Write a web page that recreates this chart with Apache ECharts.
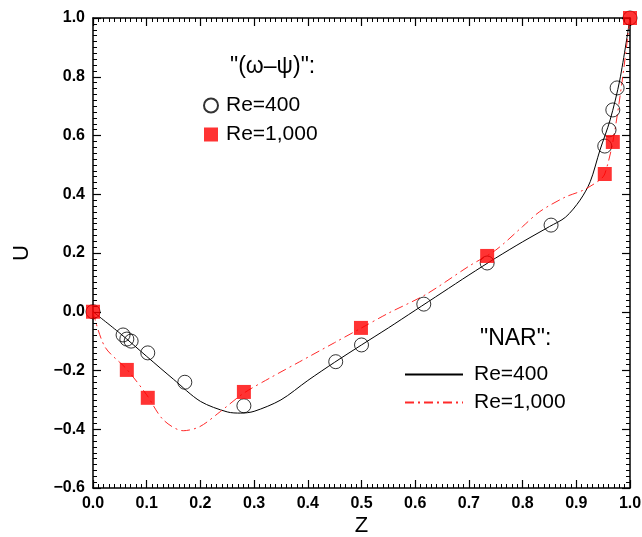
<!DOCTYPE html>
<html><head><meta charset="utf-8">
<script src="https://cdn.jsdelivr.net/npm/echarts@6/dist/echarts.min.js"></script>
<style>html,body{margin:0;padding:0;background:#fff}#c{width:642px;height:537px}</style>
</head><body><div id="c"></div>
<script>
// omega-psi Re=400 (circles)
const wp400Z = [0, 0.056, 0.063, 0.071, 0.102, 0.171, 0.281, 0.452, 0.500, 0.616, 0.734, 0.853, 0.953, 0.961, 0.968, 0.976, 1.0];
const wp400U = [0, -0.079, -0.093, -0.10, -0.14, -0.24, -0.32, -0.17, -0.113, 0.026, 0.166, 0.295, 0.564, 0.619, 0.687, 0.762, 1.0];
// omega-psi Re=1000 (squares)
const wp1000Z = [0, 0.063, 0.102, 0.281, 0.499, 0.734, 0.953, 0.968, 1.0];
const wp1000U = [0, -0.198, -0.293, -0.273, -0.055, 0.190, 0.469, 0.578, 1.0];
// NAR Re=400 (solid line)
const nar400Z = [0, 0.05, 0.1, 0.15, 0.2, 0.25, 0.275, 0.3, 0.35, 0.4, 0.45, 0.5, 0.55, 0.6, 0.65, 0.7, 0.75, 0.8, 0.85, 0.88, 0.907, 0.926, 0.944, 0.963, 0.981, 1.0];
const nar400U = [0, -0.073, -0.152, -0.230, -0.305, -0.341, -0.345, -0.339, -0.300, -0.234, -0.172, -0.113, -0.055, 0.005, 0.065, 0.125, 0.183, 0.238, 0.29, 0.322, 0.38, 0.443, 0.55, 0.653, 0.789, 1.0];
// NAR Re=1000 (dash-dot line)
const nar1000Z = [0, 0.022, 0.063, 0.1, 0.131, 0.168, 0.199, 0.237, 0.28, 0.33, 0.385, 0.45, 0.5, 0.55, 0.62, 0.7, 0.75, 0.8, 0.832, 0.879, 0.913, 0.944, 0.953, 0.968, 0.985, 1.0];
const nar1000U = [0, -0.119, -0.196, -0.283, -0.368, -0.405, -0.391, -0.34, -0.278, -0.225, -0.17, -0.105, -0.055, -0.005, 0.059, 0.155, 0.21, 0.29, 0.341, 0.39, 0.414, 0.449, 0.469, 0.578, 0.78, 1.0];
// axis ticks
const xTicks = {min: 0, max: 1, interval: 0.1};
const yTicks = {min: -0.6, max: 1.0, interval: 0.2};

const zip = (a, b) => a.map((v, i) => [v, b[i]]);
const FONT = 'Liberation Sans';
const fmt1 = v => (Math.abs(v) < 1e-9 ? 0 : v).toFixed(1).replace('-', '\u2212');
const labelMap = {wp400: 'Re=400', wp1000: 'Re=1,000', nar400: 'Re=400', nar1000: 'Re=1,000'};

const axisCommon = {
  axisLine: {show: true, onZero: false, lineStyle: {color: '#000', width: 1.5}},
  axisTick: {show: true, inside: true, length: 8, lineStyle: {color: '#000', width: 1.2}},
  minorTick: {show: true, splitNumber: 10, length: 4, lineStyle: {color: '#000', width: 1}},
  splitLine: {show: false}
};
const chart = echarts.init(document.getElementById('c'));
chart.setOption({
  animation: false,
  backgroundColor: '#fff',
  textStyle: {fontFamily: FONT},
  grid: {left: 93, right: 12, top: 18, bottom: 49, containLabel: false, outerBoundsMode: 'none'},
  xAxis: [
    Object.assign({type: 'value', position: 'bottom', min: xTicks.min, max: xTicks.max, interval: xTicks.interval,
      name: 'Z', nameLocation: 'middle', nameGap: 27, nameMoveOverlap: false,
      nameTextStyle: {fontSize: 22, color: '#000', fontFamily: FONT},
      axisLabel: {formatter: fmt1, fontSize: 16, color: '#000', fontWeight: 'bold', margin: 8, fontFamily: FONT}}, axisCommon),
    Object.assign({type: 'value', position: 'top', min: xTicks.min, max: xTicks.max, interval: xTicks.interval,
      axisLabel: {show: false}}, axisCommon)
  ],
  yAxis: [
    Object.assign({type: 'value', position: 'left', min: yTicks.min, max: yTicks.max, interval: yTicks.interval,
      name: 'U', nameLocation: 'middle', nameGap: 60, nameRotate: 90, nameMoveOverlap: false,
      nameTextStyle: {fontSize: 22, color: '#000', fontFamily: FONT},
      axisLabel: {formatter: fmt1, fontSize: 16, color: '#000', fontWeight: 'bold', margin: 8, fontFamily: FONT}}, axisCommon),
    Object.assign({type: 'value', position: 'right', min: yTicks.min, max: yTicks.max, interval: yTicks.interval,
      axisLabel: {show: false}}, axisCommon)
  ],
  legend: [
    {orient: 'vertical', left: 198, top: 90, itemGap: 8, itemWidth: 14, itemHeight: 14,
      data: [{name: 'wp400', icon: 'circle'}, {name: 'wp1000', icon: 'rect'}],
      formatter: n => labelMap[n], textStyle: {fontSize: 21, color: '#000', fontFamily: FONT, padding: [0, 0, 0, 3]}},
    {orient: 'vertical', left: 399, top: 359, itemGap: 7, itemWidth: 58, itemHeight: 14,
      data: ['nar400', 'nar1000'], itemStyle: {opacity: 0},
      formatter: n => labelMap[n], textStyle: {fontSize: 21, color: '#000', fontFamily: FONT, padding: [0, 0, 0, 6]}}
  ],
  graphic: [
    {type: 'text', left: 230, top: 55, style: {text: '"(\u03c9\u2013\u03c8)":', fontSize: 23, fill: '#000', fontFamily: FONT}},
    {type: 'text', left: 480, top: 327, style: {text: '"NAR":', fontSize: 23, fill: '#000', fontFamily: FONT}}
  ],
  series: [
    {name: 'nar400', type: 'line', data: zip(nar400Z, nar400U), smooth: 0.3, showSymbol: false, symbol: 'none',
      lineStyle: {color: '#000', width: 1}, itemStyle: {color: '#000'}, z: 2},
    {name: 'nar1000', type: 'line', data: zip(nar1000Z, nar1000U), smooth: 0.3, showSymbol: false, symbol: 'none',
      lineStyle: {color: '#ff2a2a', width: 1, type: [9, 4, 2, 4]}, itemStyle: {color: '#ff2a2a'}, z: 2},
    {name: 'wp400', type: 'scatter', data: zip(wp400Z, wp400U), symbol: 'circle', symbolSize: 14,
      itemStyle: {color: 'rgba(255,255,255,0)', borderColor: '#000', borderWidth: 1}, z: 3},
    {name: 'wp1000', type: 'scatter', data: zip(wp1000Z, wp1000U), symbol: 'rect', symbolSize: 14,
      itemStyle: {color: '#ff0000'}, z: 4}
  ]
});
</script></body></html>
